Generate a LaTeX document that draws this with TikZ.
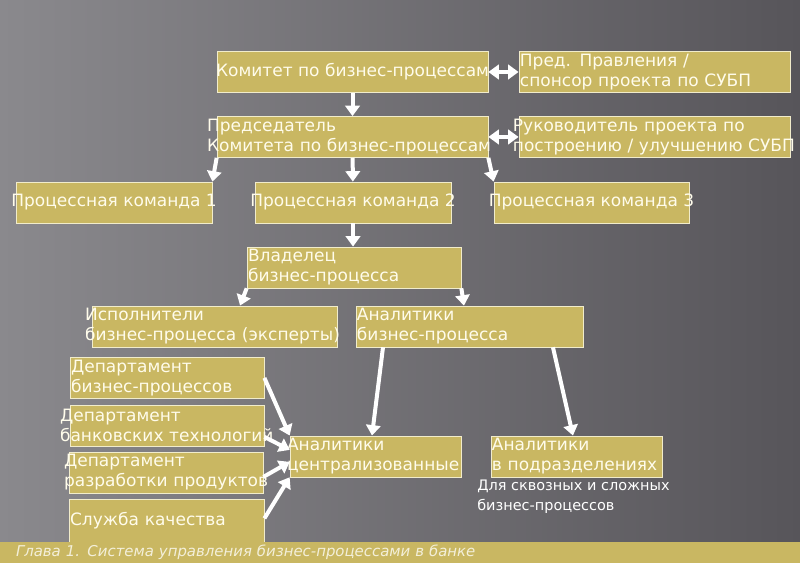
\documentclass[tikz,border=0pt]{standalone}
\usepackage{fontspec}
\setmainfont{DejaVu Sans}
\usetikzlibrary{arrows.meta,calc}

\definecolor{bgdark}{HTML}{57555A}
\definecolor{bglight}{HTML}{8A898D}
\definecolor{gold}{HTML}{C9B762}
\definecolor{goldline}{HTML}{F1ECCB}
\definecolor{cream}{HTML}{FFFCEB}
\definecolor{foottext}{HTML}{F3EFD9}

\begin{document}
\begin{tikzpicture}[x=0.025cm, y=-0.025cm,
  unit/.style={draw=goldline, line width=0.5pt, fill=gold, text=cream, font=\fontsize{12.1}{14.2}\selectfont, minimum height=1.025cm, inner ysep=0pt},
  cunit/.style={unit, minimum width=#1, inner xsep=-2cm},
  lunit/.style 2 args={unit, align=left, text width=#1, inner xsep=#2},
  link/.style={draw=white, line width=1mm, -{Triangle[width=3.6mm,length=2.6mm]}},
  twoway/.style={link, {Triangle[width=3.6mm,length=2.6mm]}-{Triangle[width=3.6mm,length=2.6mm]}},
  note/.style={text=white, font=\fontsize{10.3}{14.2}\selectfont, align=left, inner sep=0pt},
  footer/.style={fill=gold, text=foottext, font=\fontsize{10.6}{12}\selectfont\itshape, text width=19.2cm, inner xsep=0.4cm, inner ysep=0pt, minimum height=0.525cm, align=left}
]
\shade[left color=bglight, right color=bgdark] (0,0) rectangle (800,563);

\node[cunit=6.775cm] (kom) at (352.5,72) {Комитет по бизнес-процессам};
\node[lunit={6.725cm}{0.025cm}] (pred) at (654.5,72) {Пред. Правления /\\спонсор~проекта~по~СУБП};
\node[lunit={7.275cm}{-0.25cm}] (chair) at (352.5,137) {Председатель\\Комитета~по~бизнес-процессам};
\node[lunit={7.075cm}{-0.15cm}] (ruk) at (654.5,137) {Руководитель~проекта~по\\построению~/~улучшению~СУБП};

\node[cunit=4.9cm] (team1) at (114,202.5) {Процессная команда 1};
\node[cunit=4.9cm] (team2) at (353,202.5) {Процессная команда 2};
\node[cunit=4.875cm] (team3) at (591.5,202.5) {Процессная команда 3};

\node[lunit={5.3cm}{0.025cm}] (owner) at (354,267.5) {Владелец\\бизнес-процесса};
\node[lunit={6.475cm}{-0.175cm}] (experts) at (214.5,326.5) {Исполнители\\бизнес-процесса~(эксперты)};
\node[lunit={5.625cm}{0.025cm}] (bpan) at (469.5,326.5) {Аналитики\\бизнес-процесса};

\node[lunit={4.8cm}{0.025cm}] (dbp) at (167,378) {Департамент\\бизнес-процессов};
\node[lunit={5.35cm}{-0.25cm}] (dbt) at (167,425.5) {Департамент\\банковских~технологий};
\node[lunit={5.1cm}{-0.125cm}] (dpr) at (166,472.5) {Департамент\\разработки~продуктов};
\node[lunit={4.825cm}{0.025cm}, minimum height=1.075cm] (qual) at (166.5,520.5) {Служба качества};

\node[lunit={4.425cm}{-0.075cm}] (central) at (375.5,456.5) {Аналитики\\централизованные};
\node[lunit={4.225cm}{0.025cm}] (depts) at (576.5,456.5) {Аналитики\\в~подразделениях};
\node[note, anchor=north west] (why) at (477,480) {Для сквозных и сложных\\бизнес-процессов};

\node[footer] (foot) at (400,552.5) {Глава 1. Система управления бизнес-процессами в банке};

% top rows
\draw[twoway] (kom) -- (pred);
\draw[link] (kom) -- (chair);
\draw[twoway] (chair) -- (ruk);
\draw[link] (chair.south west) -- (team1.north east);
\draw[link] (chair) -- (team2);
\draw[link] (chair.south east) -- (team3.north west);
\draw[link] (team2.south) -- (team2.south |- owner.north);

% owner and analysts
\draw[link] (owner.south west) -- ($(experts.north)+(25.5,0)$);
\draw[link] (owner.south east) -- ($(bpan.north)+(-5.5,0)$);
\draw[link] ($(bpan.south)+(-86.5,0)$) -- ($(central.north)+(-3.5,0)$);
\draw[link] ($(bpan.south)+(83.5,0)$) -- ($(depts.north)+(-3.5,0)$);

% departments
\draw[link] (dbp.east) -- (central.north west);
\draw[link] ($(dbt.east)+(0,11.5)$) -- ($(central.west)+(0,-6.5)$);
\draw[link] ($(dpr.east)+(0,4.5)$) -- ($(central.west)+(0,5.5)$);
\draw[link] ($(qual.east)+(0,-2)$) -- (central.south west);
\end{tikzpicture}
\end{document}
